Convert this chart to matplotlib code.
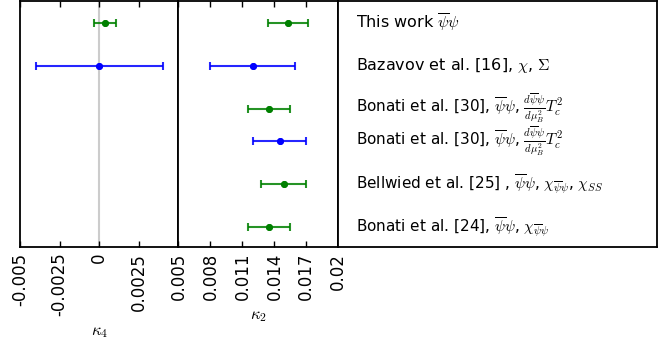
import numpy as np
import matplotlib
matplotlib.use("Agg")
import matplotlib.pyplot as plt

plt.rcParams['mathtext.fontset'] = 'cm'

# rows, top to bottom
labels = [r'This work $\overline{\psi}\psi$',
          r'Bazavov et al. [16], $\chi$, $\Sigma$',
          r'Bonati et al. [30], $\overline{\psi}\psi$, $\frac{d\overline{\psi}\psi}{d\mu_B^2}T_c^2$',
          r'Bonati et al. [30], $\overline{\psi}\psi$, $\frac{d\overline{\psi}\psi}{d\mu_B^2}T_c^2$',
          r'Bellwied et al. [25] , $\overline{\psi}\psi$, $\chi_{\overline{\psi}\psi}$, $\chi_{SS}$',
          r'Bonati et al. [24], $\overline{\psi}\psi$, $\chi_{\overline{\psi}\psi}$']
colors = ['g', 'b', 'g', 'b', 'g', 'g']

k2 = [0.01527, 0.01195, 0.01348, 0.01449, 0.01487, 0.01348]
k2_err = [0.00184, 0.00400, 0.00200, 0.00248, 0.00210, 0.00200]

# only the first two rows have a kappa_4
k4 = [0.00037, 0.0]
k4_err = [0.00067, 0.0040]

ypos = [5, 4, 3, 2.25, 1.25, 0.25]

fig = plt.figure(figsize=(6.66, 3.51), dpi=100)
ax1 = fig.add_axes([0.030, 0.296, 0.238, 0.701])
ax2 = fig.add_axes([0.268, 0.296, 0.240, 0.701])
ax3 = fig.add_axes([0.508, 0.296, 0.478, 0.701])

for ax in (ax1, ax2, ax3):
    ax.set_ylim(-0.22, 5.5)
    ax.set_yticks([])
    for s in ax.spines.values():
        s.set_linewidth(1.3)

ax1.axvline(0, color='0.8', lw=1.5, zorder=0)
for i in range(len(k4)):
    ax1.errorbar(k4[i], ypos[i], xerr=k4_err[i], fmt='o', color=colors[i],
                 ms=4, elinewidth=1.5, capsize=3.2, capthick=1.5, alpha=0.85)
    ax1.plot(k4[i], ypos[i], 'o', color=colors[i], ms=4)
for i in range(len(k2)):
    ax2.errorbar(k2[i], ypos[i], xerr=k2_err[i], fmt='o', color=colors[i],
                 ms=4, elinewidth=1.5, capsize=3.2, capthick=1.5, alpha=0.85)
    ax2.plot(k2[i], ypos[i], 'o', color=colors[i], ms=4)

ax1.set_xlim(-0.005, 0.005)
ax1.set_xticks([-0.005, -0.0025, 0, 0.0025, 0.005])
ax1.set_xticklabels(['-0.005', '-0.0025', '0', '0.0025', '0.005'], rotation=90, fontsize=12)
ax2.set_xlim(0.005, 0.02)
ax2.set_xticks([0.005, 0.008, 0.011, 0.014, 0.017, 0.02])
ax2.set_xticklabels(['', '0.008', '0.011', '0.014', '0.017', '0.02'], rotation=90, fontsize=12)
for ax in (ax1, ax2):
    ax.tick_params(axis='x', direction='in', top=True, length=4, width=1, pad=4)

ax1.set_xlabel(r'$\kappa_4$', fontsize=12)
ax2.set_xlabel(r'$\kappa_2$', fontsize=12)

ax3.set_xticks([])
ax3.set_xlim(0, 1)
for i, lab in enumerate(labels):
    fs = 11.5 if i < 2 else 11
    ax3.text(0.055, ypos[i], lab, fontsize=fs, va='center', ha='left')

fig.savefig('out.png', dpi=100)
